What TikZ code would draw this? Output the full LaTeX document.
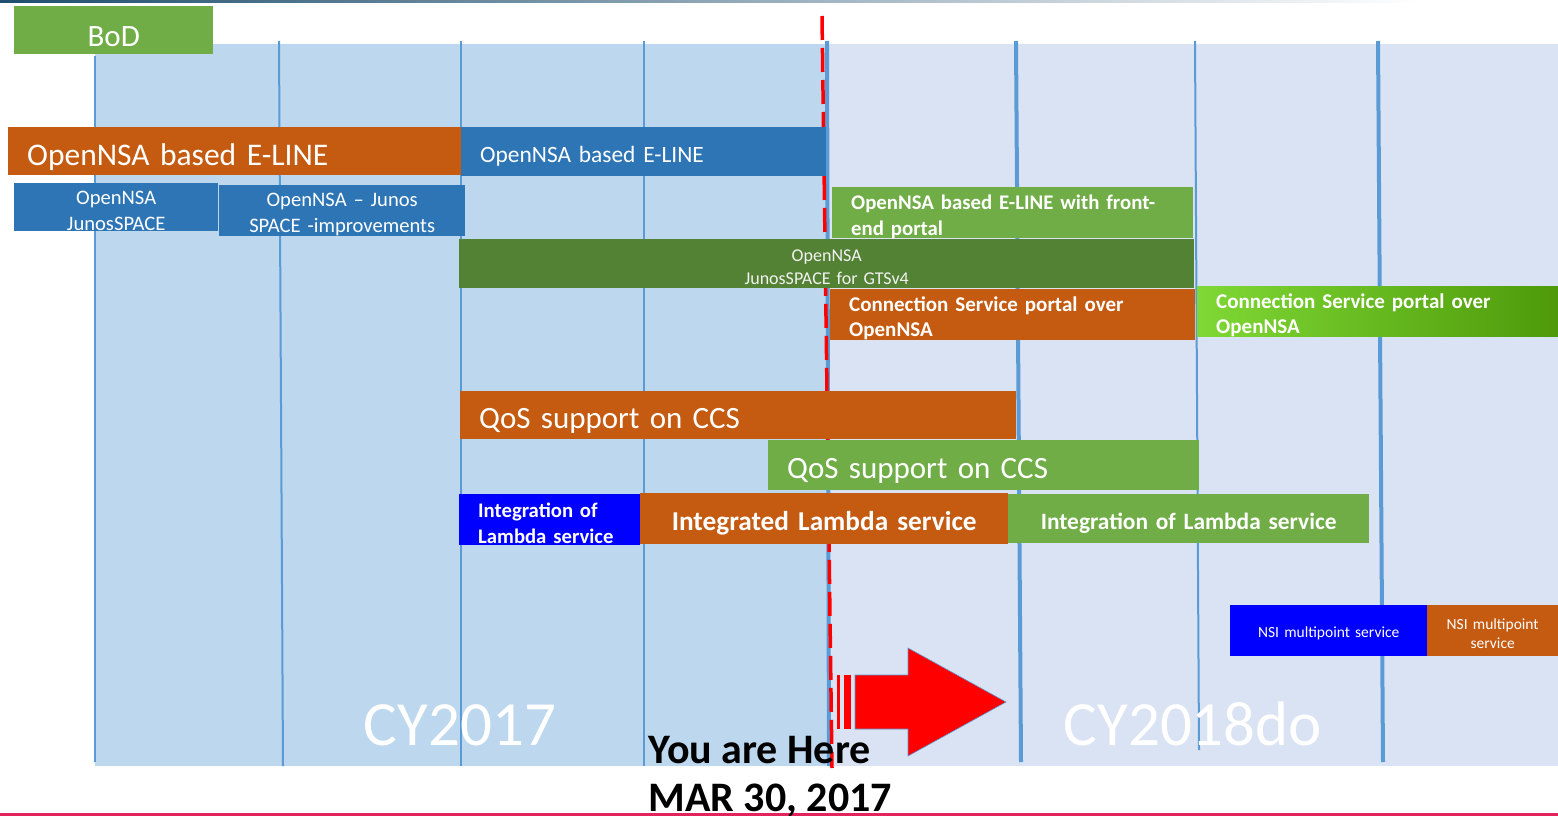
\documentclass[tikz,border=0pt]{standalone}
\usepackage{fontspec}
\setmainfont{Carlito}
\usepackage{tikz}
\usetikzlibrary{arrows}

\definecolor{bgold}{HTML}{BDD7EE}
\definecolor{bgnew}{HTML}{DAE3F3}
\definecolor{vline}{HTML}{5B9BD5}
\definecolor{ocre}{HTML}{C55A11}
\definecolor{steel}{HTML}{2E75B6}
\definecolor{leaf}{HTML}{70AD47}
\definecolor{moss}{HTML}{548235}
\definecolor{lime}{HTML}{7FD835}
\definecolor{grass}{HTML}{4E9A0A}
\definecolor{topline}{HTML}{1F4E6E}
\definecolor{botline}{HTML}{E3245C}

\begin{document}
\begin{tikzpicture}[x=1pt, y=-1pt]
		\tikzstyle{bar} = [rectangle, anchor=north west, inner sep=0pt, text=white, execute at begin node={\rule{0pt}{1.05em}}]
		\tikzstyle{lbar} = [bar, align=left, inner xsep=19pt]
		\tikzstyle{cbar} = [bar, align=center]
		\tikzstyle{grid} = [vline, line width=2pt]
		\tikzstyle{gridthick} = [vline, line width=4pt]
		\tikzstyle{yeartxt} = [anchor=base, text=white, font=\fontsize{63}{70}\selectfont]
		\tikzstyle{heretxt} = [anchor=base west, font=\bfseries\fontsize{42}{48}\selectfont]

		\useasboundingbox (0,0) rectangle (1558,816);

		% background
		\shade[left color=topline, right color=white] (0,0) rectangle (1420,3);
		\fill[bgold] (95,44) rectangle (828,766);
		\fill[bgnew] (828,44) rectangle (1558,766);
		\draw[botline, line width=3pt] (0,814) -- (1558,814);

		% month lines
		\draw[grid] (95,56) -- (95,762);
		\draw[grid] (279,41) -- (283,766);
		\draw[grid] (461,41) -- (461,766);
		\draw[grid] (644,41) -- (644,766);
		\draw[gridthick] (827,41) -- (829,766);
		\draw[gridthick] (1016,41) -- (1021,762);
		\draw[grid] (1195,41) -- (1199,750);
		\draw[gridthick] (1378,41) -- (1383,762);

		\draw[red, line width=3.5pt, dash pattern=on 24pt off 8pt] (822,16) -- (832,768);

		\node[yeartxt] (cy17) at (460,745) {CY2017};
		\node[yeartxt] (cy18) at (1193,745) {CY2018do};

		\path
		node[cbar, fill=leaf, minimum width=199, minimum height=48, font=\fontsize{31}{36}\selectfont] (bod) at (14,6) {BoD}

		node[lbar, fill=ocre, text width=415pt, minimum height=48, font=\fontsize{31.5}{36}\selectfont] (eline) at (8,127) {OpenNSA based E-LINE}
		node[lbar, fill=steel, text width=327pt, minimum height=49, font=\fontsize{23.4}{26}\selectfont] (elinetwo) at (461,127) {OpenNSA based E-LINE}

		node[cbar, fill=steel, text width=204pt, minimum height=48, font=\fontsize{20.6}{26}\selectfont] (junos) at (14,183) {OpenNSA\\JunosSPACE}
		node[cbar, fill=steel, text width=246pt, minimum height=49, font=\fontsize{20.6}{26}\selectfont] (junosimp) at (219,185) {OpenNSA -- Junos\\SPACE -improvements}

		node[lbar, fill=leaf, text width=323pt, minimum height=50, font=\bfseries\fontsize{20.8}{26}\selectfont] (portal) at (832,187) {OpenNSA based E-LINE with front-\\end portal}
		node[cbar, fill=moss, text width=735pt, minimum height=49, text=white!90!gray, font=\fontsize{18}{23}\selectfont] (gts) at (459,239) {OpenNSA\\JunosSPACE for GTSv4}

		node[lbar, fill=ocre, text width=327pt, minimum height=47, font=\bfseries\fontsize{21}{25}\selectfont] (cspone) at (830,289) {Connection Service portal over\\OpenNSA}
		node[lbar, left color=lime, right color=grass, text width=323pt, minimum height=47, font=\bfseries\fontsize{21}{25}\selectfont] (csptwo) at (1197,286) {Connection Service portal over\\OpenNSA}

		node[lbar, fill=ocre, text width=518pt, minimum height=48, font=\fontsize{31}{36}\selectfont] (qosone) at (460,391) {QoS support on CCS}
		node[lbar, fill=leaf, text width=393pt, minimum height=50, font=\fontsize{31}{36}\selectfont] (qostwo) at (768,440) {QoS support on CCS}

		node[lbar, fill=blue, text width=143pt, minimum height=51, font=\bfseries\fontsize{20.7}{26}\selectfont] (lambdaone) at (459,494) {Integration of\\Lambda service}
		node[cbar, fill=ocre, text width=368pt, minimum height=51, font=\bfseries\fontsize{27.3}{30}\selectfont] (lambdatwo) at (640,493) {Integrated Lambda service}
		node[cbar, fill=leaf, text width=361pt, minimum height=49, font=\bfseries\fontsize{23.4}{26}\selectfont] (lambdathree) at (1008,494) {Integration of Lambda service}

		node[cbar, fill=blue, text width=197pt, minimum height=51, font=\fontsize{15.5}{19}\selectfont] (nsione) at (1230,605) {NSI multipoint service}
		node[cbar, fill=ocre, text width=131pt, minimum height=51, font=\fontsize{15.5}{19}\selectfont] (nsitwo) at (1427,605) {NSI multipoint\\service}
		;

		% striped arrow
		\fill[red] (837,675) rectangle (840,729);
		\fill[red] (844,675) rectangle (851,729);
		\filldraw[fill=red, draw=vline, line width=0.6pt] (855,675) -- (908,675) -- (908,648) -- (1006,702) -- (908,756) -- (908,729) -- (855,729) -- cycle;

		\node[heretxt] (here) at (645,763) {You are Here};
		\node[heretxt] (date) at (645,811) {MAR 30, 2017};

		\end{tikzpicture}
\end{document}
